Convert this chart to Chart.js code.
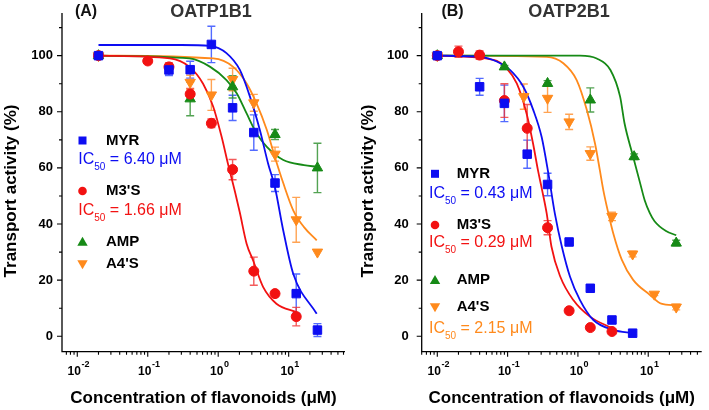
<!DOCTYPE html>
<html>
<head>
<meta charset="utf-8">
<script src="https://cdn.jsdelivr.net/npm/chart.js@4.4.1/dist/chart.umd.min.js"></script>
<style>
html, body { margin: 0; padding: 0; background: #fff; }
#wrap { position: relative; width: 709px; height: 410px; overflow: hidden; }
canvas { position: absolute; top: 0; }
</style>
</head>
<body>
<div id="wrap">
  <canvas id="chartA" width="355" height="410" style="left:0px"></canvas>
  <canvas id="chartB" width="354" height="410" style="left:355px"></canvas>
</div>
<script>
var FONT = 'Arial, "Liberation Sans", Helvetica, sans-serif';
var BLUE = '#0d0df2', RED = '#f21212', GREEN = '#168a16', ORANGE = '#ff8a1c';
var BLUE_ERR = 'rgba(40,70,255,0.8)', RED_ERR = 'rgba(240,50,50,0.8)';
var GREEN_ERR = 'rgba(40,140,40,0.8)', ORANGE_ERR = 'rgba(255,140,40,0.8)';

// (A) OATP1B1 - measured points
var aMyrX = [0.02, 0.2, 0.4, 0.8, 1.6, 3.2, 6.4, 12.8, 25.6];
var aMyrY = [100, 94.9, 95, 104, 81.4, 72.6, 54.6, 15.2, 2.2];
var aMyrErr = [0, 2, 3, 6.5, 4.5, 6.3, 3, 7, 2.3];
var aM3sX = [0.02, 0.1, 0.2, 0.4, 0.8, 1.6, 3.2, 6.4, 12.8];
var aM3sY = [100, 98.1, 96, 86.3, 75.9, 59.4, 23.2, 15.2, 7];
var aM3sErr = [0, 0, 1.5, 2, 1.5, 3.6, 5, 1, 3.3];
var aAmpX = [0.02, 0.4, 1.6, 6.4, 25.6];
var aAmpY = [100, 84.6, 88.9, 71.9, 60];
var aAmpErr = [0, 6, 4, 1.8, 8.8];
var aA4sX = [0.02, 0.4, 0.8, 1.6, 3.2, 6.4, 12.8, 25.6];
var aA4sY = [100, 90.5, 86, 91.5, 83.2, 64.9, 41.5, 30];
var aA4sErr = [0, 2.5, 5.5, 4, 3, 2.5, 8, 0];

// (A) fitted curves
var aMyrFitX = [0.02, 0.3, 0.76, 1.31, 2.03, 2.82, 3.9, 5.1, 6.37, 8.36, 11.6, 25];
var aMyrFitY = [103.8, 103.8, 103.5, 100.9, 94.9, 85.4, 73.5, 61.6, 53.2, 37.8, 22.3, 8];
var aM3sFitX = [0.02, 0.206, 0.39, 0.61, 0.85, 1.12, 1.39, 1.73, 2.03, 2.53, 3.13, 4.35, 6.7, 12.9];
var aM3sFitY = [100, 99, 96, 90, 81.8, 71, 61, 51.5, 44, 33, 27, 17.5, 11.6, 8.6];
var aAmpFitX = [0.02, 0.39, 0.77, 1.31, 1.83, 2.53, 3.5, 4.9, 8.4, 16.5, 25];
var aAmpFitY = [100, 99, 96, 91.3, 86.6, 79.4, 72.3, 67.5, 62.8, 61, 60.4];
var aA4sFitX = [0.02, 0.85, 1.63, 2.53, 3.5, 4.9, 6.37, 8.4, 11.6, 16.5, 25];
var aA4sFitY = [100, 99, 96, 90.1, 83, 73.5, 63.9, 54.5, 44.9, 38.9, 34.2];

// (B) OATP2B1 - measured points
var bMyrX = [0.01, 0.04, 0.09, 0.19, 0.37, 0.75, 1.5, 3.05, 6.0];
var bMyrY = [100, 88.9, 83, 64.9, 54.1, 33.6, 17.1, 5.8, 1.1];
var bMyrErr = [0, 3, 6.5, 5, 4, 1, 1, 1, 0.5];
var bM3sX = [0.01, 0.02, 0.04, 0.09, 0.19, 0.37, 0.75, 1.5, 3.05];
var bM3sY = [100, 101.4, 100.2, 84, 74.1, 38.7, 9.1, 3.1, 1.7];
var bM3sErr = [0, 2, 1.5, 6, 8.5, 2.5, 0.5, 0.5, 0.5];
var bAmpX = [0.01, 0.09, 0.37, 1.5, 6.3, 25];
var bAmpY = [100, 96, 90.1, 84.2, 64, 33.2];
var bAmpErr = [0, 0.5, 1, 4.3, 1, 1];
var bA4sX = [0.01, 0.17, 0.37, 0.75, 1.5, 3.05, 6.0, 12.2, 25];
var bA4sY = [100, 85.4, 84.8, 76.4, 65.1, 42.7, 29.3, 15, 10.4];
var bA4sErr = [0, 4.5, 5, 2.7, 2.4, 1.5, 1, 0.5, 1];

// (B) fitted curves
var bMyrFitX = [0.01, 0.041, 0.07, 0.108, 0.167, 0.232, 0.305, 0.38, 0.47, 0.59, 0.77, 1.07, 1.66, 3.17, 6.2];
var bMyrFitY = [100, 99.6, 97.9, 94.9, 88.9, 80.6, 71, 58, 43.7, 32, 21.3, 12.9, 5.8, 2.3, 1.1];
var bM3sFitX = [0.01, 0.063, 0.097, 0.135, 0.186, 0.23, 0.27, 0.31, 0.36, 0.42, 0.56, 0.86, 1.48, 3.0];
var bM3sFitY = [100, 98.5, 95.5, 90.1, 79.4, 68.7, 59.2, 52, 43.7, 32, 21.3, 12.9, 7, 3];
var bAmpFitX = [0.01, 1.07, 1.85, 2.9, 3.98, 4.6, 6.1, 7.7, 8.9, 10.5, 12.3, 17.9, 25];
var bAmpFitY = [100, 100, 99, 94.9, 85.4, 75.9, 64, 54.4, 48.5, 44, 41, 37.5, 36];
var bA4sFitX = [0.01, 0.36, 0.62, 0.96, 1.34, 1.75, 2.05, 2.3, 2.7, 3.17, 4.2, 6.1, 10.5, 15.3, 25];
var bA4sFitY = [100, 99.6, 97.3, 91.3, 80.6, 68.7, 59.2, 52, 44, 36.8, 27.3, 20.1, 14.8, 11.6, 11];

var yTicksMajor = [0, 20, 40, 60, 80, 100];
var yTicksMinor = [10, 30, 50, 70, 90, 110];
var xTicksMajor = [0.01, 0.1, 1, 10];
var xTickExp = ['-2', '-1', '0', '1'];

function pts(xs, ys) {
  return xs.map(function(x, i) { return {x: x, y: ys[i]}; });
}

function points(label, xs, ys, errs, color, errColor, style, rot, r) {
  return {
    label: label, data: pts(xs, ys), showLine: false,
    pointStyle: style, pointRotation: rot, pointRadius: r,
    backgroundColor: color, borderColor: color, borderWidth: 1,
    errors: errs, errColor: errColor
  };
}

function fit(xs, ys, color) {
  return {
    data: pts(xs, ys), showLine: true, pointRadius: 0,
    borderColor: color, borderWidth: 1.8, fill: false,
    cubicInterpolationMode: 'monotone'
  };
}

// per-panel text and legend layout
var PANELS = {
  chartA: {
    tag: '(A)', tagX: 86, title: 'OATP1B1', titleX: 211, yLabelGap: 9, yTitleX: 11,
    markX: 82.5, nameX: 106, icX: 78.3,
    legend: [
      {name: 'MYR', style: 'rect', color: BLUE, y: 140.5},
      {ic: '6.40', color: BLUE, y: 160},
      {name: "M3'S", style: 'circle', color: RED, y: 191},
      {ic: '1.66', color: RED, y: 211},
      {name: 'AMP', style: 'up', color: GREEN, y: 241.7},
      {name: "A4'S", style: 'down', color: ORANGE, y: 264.3}
    ]
  },
  chartB: {
    tag: '(B)', tagX: 97.5, title: 'OATP2B1', titleX: 214, yLabelGap: 13, yTitleX: 13,
    markX: 80, nameX: 101.7, icX: 74,
    legend: [
      {name: 'MYR', style: 'rect', color: BLUE, y: 173.8},
      {ic: '0.43', color: BLUE, y: 194},
      {name: "M3'S", style: 'circle', color: RED, y: 225},
      {ic: '0.29', color: RED, y: 243},
      {name: 'AMP', style: 'up', color: GREEN, y: 280},
      {name: "A4'S", style: 'down', color: ORANGE, y: 307.3},
      {ic: '2.15', color: ORANGE, y: 329}
    ]
  }
};

var errorBars = {
  id: 'errorBars',
  beforeDatasetsDraw: function(chart) {
    var ctx = chart.ctx, xs = chart.scales.x, ys = chart.scales.y;
    chart.data.datasets.forEach(function(ds) {
      if (!ds.errors) return;
      ctx.save();
      ctx.strokeStyle = ds.errColor;
      ctx.lineWidth = 1.4;
      ds.data.forEach(function(p, j) {
        var e = ds.errors[j];
        if (!e) return;
        var px = xs.getPixelForValue(p.x);
        var top = ys.getPixelForValue(p.y + e), bot = ys.getPixelForValue(p.y - e);
        ctx.beginPath();
        ctx.moveTo(px, top); ctx.lineTo(px, bot);
        ctx.moveTo(px - 4, top); ctx.lineTo(px + 4, top);
        ctx.moveTo(px - 4, bot); ctx.lineTo(px + 4, bot);
        ctx.stroke();
      });
      ctx.restore();
    });
  }
};

function marker(ctx, style, x, y, color) {
  ctx.fillStyle = color;
  ctx.beginPath();
  if (style === 'rect') {
    ctx.rect(x - 4, y - 4, 8, 8);
  } else if (style === 'circle') {
    ctx.arc(x, y, 4.3, 0, Math.PI * 2);
  } else if (style === 'up') {
    ctx.moveTo(x, y - 5); ctx.lineTo(x + 5.2, y + 4); ctx.lineTo(x - 5.2, y + 4);
  } else {
    ctx.moveTo(x, y + 5); ctx.lineTo(x + 5.2, y - 4); ctx.lineTo(x - 5.2, y - 4);
  }
  ctx.closePath();
  ctx.fill();
}

var decor = {
  id: 'decor',
  afterDraw: function(chart) {
    var cfg = PANELS[chart.canvas.id];
    var ctx = chart.ctx, xs = chart.scales.x, ys = chart.scales.y;
    var area = chart.chartArea;
    ctx.save();
    ctx.strokeStyle = '#000';
    ctx.fillStyle = '#000';

    // axis lines
    ctx.lineWidth = 1.3;
    ctx.beginPath();
    ctx.moveTo(area.left, area.top);
    ctx.lineTo(area.left, area.bottom);
    ctx.lineTo(area.right, area.bottom);
    ctx.stroke();

    // y ticks
    ctx.lineWidth = 1.1;
    ctx.beginPath();
    yTicksMajor.forEach(function(v) {
      var py = ys.getPixelForValue(v);
      ctx.moveTo(area.left - 5, py); ctx.lineTo(area.left, py);
    });
    yTicksMinor.forEach(function(v) {
      var py = ys.getPixelForValue(v);
      ctx.moveTo(area.left - 3, py); ctx.lineTo(area.left, py);
    });
    // x ticks (log decades with minor 2..9)
    for (var n = -3; n <= 2; n++) {
      for (var k = 1; k <= 9; k++) {
        var v = k * Math.pow(10, n);
        if (v < xs.min || v > xs.max) continue;
        var px = xs.getPixelForValue(v);
        ctx.moveTo(px, area.bottom); ctx.lineTo(px, area.bottom + (k === 1 ? 5 : 3));
      }
    }
    ctx.stroke();

    // y tick labels
    ctx.font = 'bold 13px ' + FONT;
    ctx.textAlign = 'right';
    ctx.textBaseline = 'middle';
    yTicksMajor.forEach(function(v) {
      ctx.fillText(String(v), area.left - cfg.yLabelGap, ys.getPixelForValue(v));
    });

    // x tick labels 10^n
    ctx.textAlign = 'left';
    xTicksMajor.forEach(function(v, i) {
      var px = xs.getPixelForValue(v);
      ctx.font = 'bold 12px ' + FONT;
      var w1 = ctx.measureText('10').width;
      ctx.font = 'bold 9px ' + FONT;
      var w2 = ctx.measureText(xTickExp[i]).width;
      var x0 = px + 1 - (w1 + w2) / 2;
      ctx.font = 'bold 12px ' + FONT;
      ctx.fillText('10', x0, 371.5);
      ctx.font = 'bold 9px ' + FONT;
      ctx.fillText(xTickExp[i], x0 + w1 + 0.5, 364.5);
    });

    // axis titles
    ctx.font = 'bold 17px ' + FONT;
    ctx.textAlign = 'center';
    ctx.fillText('Concentration of flavonoids (\u03bcM)', (area.left + area.right) / 2, 398);
    ctx.save();
    ctx.translate(cfg.yTitleX, 191);
    ctx.rotate(-Math.PI / 2);
    ctx.fillText('Transport activity (%)', 0, 0);
    ctx.restore();

    // panel titles
    ctx.font = 'bold 16px ' + FONT;
    ctx.fillStyle = '#111';
    ctx.fillText(cfg.tag, cfg.tagX, 12);
    ctx.font = 'bold 18px ' + FONT;
    ctx.fillStyle = '#333';
    ctx.fillText(cfg.title, cfg.titleX, 12);

    // legend with IC50 lines
    cfg.legend.forEach(function(item) {
      if (item.name) {
        marker(ctx, item.style, cfg.markX, item.y, item.color);
        ctx.font = 'bold 15px ' + FONT;
        ctx.fillStyle = '#000';
        ctx.textAlign = 'left';
        ctx.fillText(item.name, cfg.nameX, item.y);
      } else {
        ctx.fillStyle = item.color;
        ctx.textAlign = 'left';
        ctx.font = '16px ' + FONT;
        var x = cfg.icX;
        ctx.fillText('IC', x, item.y);
        x += ctx.measureText('IC').width;
        ctx.font = '10px ' + FONT;
        ctx.fillText('50', x, item.y + 7);
        x += ctx.measureText('50').width;
        ctx.font = '16px ' + FONT;
        ctx.fillText(' = ' + item.ic + ' \u03bcM', x, item.y);
      }
    });
    ctx.restore();
  }
};

function makeChart(id, datasets, xMin, xMax, yAxisWidth, rightPad) {
  return new Chart(document.getElementById(id), {
    type: 'scatter',
    data: {datasets: datasets},
    options: {
      responsive: false,
      animation: false,
      devicePixelRatio: 1,
      layout: {autoPadding: false, padding: {top: 13, right: rightPad, left: 0, bottom: 0}},
      plugins: {legend: {display: false}, tooltip: {enabled: false}, title: {display: false}},
      scales: {
        x: {
          type: 'logarithmic', min: xMin, max: xMax,
          grid: {display: false}, border: {display: false}, ticks: {display: false},
          afterFit: function(s) { s.height = 58.3; }
        },
        y: {
          type: 'linear', min: -5.5, max: 115.2,
          grid: {display: false}, border: {display: false}, ticks: {display: false},
          afterFit: function(s) { s.width = yAxisWidth; }
        }
      }
    },
    plugins: [errorBars, decor]
  });
}

makeChart('chartA', [
  points('MYR', aMyrX, aMyrY, aMyrErr, BLUE, BLUE_ERR, 'rect', 0, 6),
  points("M3'S", aM3sX, aM3sY, aM3sErr, RED, RED_ERR, 'circle', 0, 5),
  points('AMP', aAmpX, aAmpY, aAmpErr, GREEN, GREEN_ERR, 'triangle', 0, 6),
  points("A4'S", aA4sX, aA4sY, aA4sErr, ORANGE, ORANGE_ERR, 'triangle', 180, 6),
  fit(aMyrFitX, aMyrFitY, BLUE),
  fit(aM3sFitX, aM3sFitY, RED),
  fit(aAmpFitX, aAmpFitY, GREEN),
  fit(aA4sFitX, aA4sFitY, ORANGE)
], 0.00607, 63, 62, 10);

makeChart('chartB', [
  points('MYR', bMyrX, bMyrY, bMyrErr, BLUE, BLUE_ERR, 'rect', 0, 6),
  points("M3'S", bM3sX, bM3sY, bM3sErr, RED, RED_ERR, 'circle', 0, 5),
  points('AMP', bAmpX, bAmpY, bAmpErr, GREEN, GREEN_ERR, 'triangle', 0, 6),
  points("A4'S", bA4sX, bA4sY, bA4sErr, ORANGE, ORANGE_ERR, 'triangle', 180, 6),
  fit(bMyrFitX, bMyrFitY, BLUE),
  fit(bM3sFitX, bM3sFitY, RED),
  fit(bAmpFitX, bAmpFitY, GREEN),
  fit(bA4sFitX, bA4sFitY, ORANGE)
], 0.006, 57.6, 66.7, 7.3);
</script>
</body>
</html>
